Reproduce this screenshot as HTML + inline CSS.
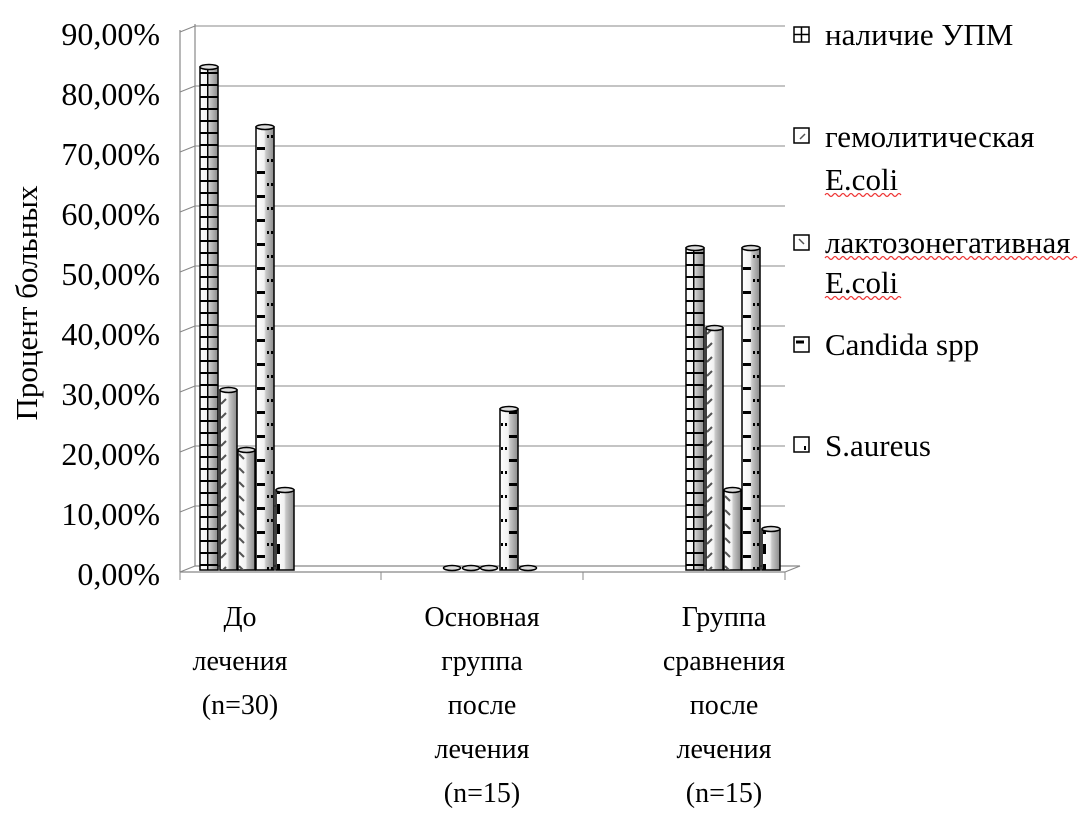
<!DOCTYPE html>
<html><head><meta charset="utf-8"><style>
body{margin:0;background:#fff}
svg text{font-family:"Liberation Serif","Noto Serif CJK SC",serif;fill:#000}
</style></head><body>
<svg width="1090" height="834" viewBox="0 0 1090 834" xmlns="http://www.w3.org/2000/svg">
<defs>
<linearGradient id="cyl" x1="0" x2="1" y1="0" y2="0">
<stop offset="0" stop-color="#fff"/><stop offset="0.45" stop-color="#f2f2f2"/><stop offset="0.55" stop-color="#c8c8c8"/><stop offset="1" stop-color="#8a8a8a"/>
</linearGradient>
<pattern id="p0" width="18" height="12" patternUnits="userSpaceOnUse"><rect x="0" y="0" width="18" height="2" fill="#000"/><rect x="9" y="0" width="1.5" height="12" fill="#000"/></pattern>
<pattern id="p1" width="18" height="14" patternUnits="userSpaceOnUse"><path d="M5 12 L10 7" stroke="#555" stroke-width="2"/></pattern>
<pattern id="p2" width="18" height="14" patternUnits="userSpaceOnUse"><path d="M5 6 L10 11" stroke="#555" stroke-width="2"/></pattern>
<pattern id="p3" width="18" height="24" patternUnits="userSpaceOnUse"><rect x="5" y="3" width="8" height="3" fill="#000"/><rect x="1" y="15" width="2" height="3" fill="#000"/><rect x="15" y="15" width="2" height="3" fill="#000"/></pattern>
<pattern id="p4" width="18" height="20" patternUnits="userSpaceOnUse"><rect x="7" y="4" width="3" height="10" fill="#000"/></pattern>
</defs>
<g stroke="#888" stroke-width="1.2" fill="none">
<line x1="180" y1="30" x2="180" y2="572"/>
<line x1="195" y1="24" x2="195" y2="566"/>
<line x1="195" y1="566" x2="800" y2="566"/>
<line x1="180" y1="572" x2="785" y2="572"/>
<line x1="785" y1="572" x2="800" y2="566"/>
<line x1="180" y1="572" x2="195" y2="566"/>
</g>
<g stroke="#888" stroke-width="1">
<line x1="180" y1="512" x2="195" y2="506"/><line x1="195" y1="506" x2="785" y2="506"/>
<line x1="180" y1="452" x2="195" y2="446"/><line x1="195" y1="446" x2="785" y2="446"/>
<line x1="180" y1="392" x2="195" y2="386"/><line x1="195" y1="386" x2="785" y2="386"/>
<line x1="180" y1="332" x2="195" y2="326"/><line x1="195" y1="326" x2="785" y2="326"/>
<line x1="180" y1="272" x2="195" y2="266"/><line x1="195" y1="266" x2="785" y2="266"/>
<line x1="180" y1="212" x2="195" y2="206"/><line x1="195" y1="206" x2="785" y2="206"/>
<line x1="180" y1="152" x2="195" y2="146"/><line x1="195" y1="146" x2="785" y2="146"/>
<line x1="180" y1="92" x2="195" y2="86"/><line x1="195" y1="86" x2="785" y2="86"/>
<line x1="180" y1="32" x2="195" y2="26"/><line x1="195" y1="26" x2="785" y2="26"/>
<line x1="180" y1="572" x2="180" y2="580"/><line x1="381" y1="572" x2="381" y2="580"/><line x1="583" y1="572" x2="583" y2="580"/><line x1="785" y1="572" x2="785" y2="580"/>
</g>
<g stroke="#000" stroke-width="1.5">
<rect x="200" y="67" width="18" height="503" fill="url(#cyl)"/><rect x="200" y="67" width="18" height="503" fill="url(#p0)" stroke="none"/><ellipse cx="209" cy="67" rx="9" ry="2.5" fill="#ddd"/>
<rect x="220" y="390" width="17" height="180" fill="url(#cyl)"/><rect x="220" y="390" width="17" height="180" fill="url(#p1)" stroke="none"/><ellipse cx="228.5" cy="390" rx="8.5" ry="2.5" fill="#ddd"/>
<rect x="238" y="450" width="17" height="120" fill="url(#cyl)"/><rect x="238" y="450" width="17" height="120" fill="url(#p2)" stroke="none"/><ellipse cx="246.5" cy="450" rx="8.5" ry="2.5" fill="#ddd"/>
<rect x="256" y="127" width="18" height="443" fill="url(#cyl)"/><rect x="256" y="127" width="18" height="443" fill="url(#p3)" stroke="none"/><ellipse cx="265" cy="127" rx="9" ry="2.5" fill="#ddd"/>
<rect x="276" y="490" width="18" height="80" fill="url(#cyl)"/><rect x="276" y="490" width="18" height="80" fill="url(#p4)" stroke="none"/><ellipse cx="285" cy="490" rx="9" ry="2.5" fill="#ddd"/>
<ellipse cx="452" cy="568" rx="8.5" ry="2.5" fill="#ddd"/>
<ellipse cx="471" cy="568" rx="8.5" ry="2.5" fill="#ddd"/>
<ellipse cx="489" cy="568" rx="8.5" ry="2.5" fill="#ddd"/>
<rect x="500" y="409" width="18" height="161" fill="url(#cyl)"/><rect x="500" y="409" width="18" height="161" fill="url(#p3)" stroke="none"/><ellipse cx="509" cy="409" rx="9" ry="2.5" fill="#ddd"/>
<ellipse cx="528" cy="568" rx="8.5" ry="2.5" fill="#ddd"/>
<rect x="686" y="248" width="18" height="322" fill="url(#cyl)"/><rect x="686" y="248" width="18" height="322" fill="url(#p0)" stroke="none"/><ellipse cx="695" cy="248" rx="9" ry="2.5" fill="#ddd"/>
<rect x="706" y="328" width="17" height="242" fill="url(#cyl)"/><rect x="706" y="328" width="17" height="242" fill="url(#p1)" stroke="none"/><ellipse cx="714.5" cy="328" rx="8.5" ry="2.5" fill="#ddd"/>
<rect x="724" y="490" width="17" height="80" fill="url(#cyl)"/><rect x="724" y="490" width="17" height="80" fill="url(#p2)" stroke="none"/><ellipse cx="732.5" cy="490" rx="8.5" ry="2.5" fill="#ddd"/>
<rect x="742" y="248" width="18" height="322" fill="url(#cyl)"/><rect x="742" y="248" width="18" height="322" fill="url(#p3)" stroke="none"/><ellipse cx="751" cy="248" rx="9" ry="2.5" fill="#ddd"/>
<rect x="762" y="529" width="18" height="41" fill="url(#cyl)"/><rect x="762" y="529" width="18" height="41" fill="url(#p4)" stroke="none"/><ellipse cx="771" cy="529" rx="9" ry="2.5" fill="#ddd"/>
</g>
<g font-size="32" text-anchor="end">
<text x="160" y="45">90,00%</text><text x="160" y="105">80,00%</text><text x="160" y="165">70,00%</text>
<text x="160" y="225">60,00%</text><text x="160" y="285">50,00%</text><text x="160" y="345">40,00%</text>
<text x="160" y="405">30,00%</text><text x="160" y="465">20,00%</text><text x="160" y="525">10,00%</text>
<text x="160" y="585">0,00%</text>
</g>
<text x="0" y="0" font-size="31" text-anchor="middle" transform="translate(37 303) rotate(-90)">Процент больных</text>
<g font-size="28" text-anchor="middle">
<text x="240" y="626">До</text><text x="240" y="670">лечения</text><text x="240" y="714">(n=30)</text>
<text x="482" y="626">Основная</text><text x="482" y="670">группа</text><text x="482" y="714">после</text><text x="482" y="758">лечения</text><text x="482" y="802">(n=15)</text>
<text x="724" y="626">Группа</text><text x="724" y="670">сравнения</text><text x="724" y="714">после</text><text x="724" y="758">лечения</text><text x="724" y="802">(n=15)</text>
</g>
<g stroke="#000" stroke-width="1.5" fill="#fff">
<rect x="794" y="27" width="15" height="15"/><rect x="794" y="128" width="15" height="15"/><rect x="794" y="235" width="15" height="15"/><rect x="794" y="337" width="15" height="15"/><rect x="794" y="437" width="15" height="15"/>
</g>
<g stroke="#000" stroke-width="1.5"><line x1="794" y1="34.5" x2="809" y2="34.5"/><line x1="801.5" y1="27" x2="801.5" y2="42"/>
<line x1="800" y1="139" x2="805" y2="134" stroke="#555"/><line x1="799" y1="239" x2="804" y2="244" stroke="#555"/>
<line x1="796" y1="342" x2="804" y2="342" stroke-width="3"/><rect x="804" y="446" width="2" height="4" stroke="none" fill="#000"/></g>
<g font-size="31">
<text x="825" y="45">наличие УПМ</text>
<text x="825" y="147">гемолитическая</text><text x="825" y="190">E.coli</text>
<text x="825" y="253">лактозонегативная</text><text x="825" y="293">E.coli</text>
<text x="825" y="355">Candida spp</text>
<text x="825" y="456">S.aureus</text>
</g>
<g stroke="#e33" stroke-width="1.2" fill="none">
<path d="M825 195 q2 -3 4 0 t4 0 t4 0 t4 0 t4 0 t4 0 t4 0 t4 0 t4 0 t4 0 t4 0 t4 0 t4 0 t4 0 t4 0 t4 0 t4 0 t4 0 t4 0"/>
<path d="M825 258 q2 -3 4 0 t4 0 t4 0 t4 0 t4 0 t4 0 t4 0 t4 0 t4 0 t4 0 t4 0 t4 0 t4 0 t4 0 t4 0 t4 0 t4 0 t4 0 t4 0 t4 0 t4 0 t4 0 t4 0 t4 0 t4 0 t4 0 t4 0 t4 0 t4 0 t4 0 t4 0 t4 0 t4 0 t4 0 t4 0 t4 0 t4 0 t4 0 t4 0 t4 0 t4 0 t4 0 t4 0 t4 0 t4 0 t4 0 t4 0 t4 0 t4 0 t4 0 t4 0 t4 0 t4 0 t4 0 t4 0 t4 0 t4 0 t4 0 t4 0 t4 0 t4 0 t4 0 t4 0"/>
<path d="M825 298 q2 -3 4 0 t4 0 t4 0 t4 0 t4 0 t4 0 t4 0 t4 0 t4 0 t4 0 t4 0 t4 0 t4 0 t4 0 t4 0 t4 0 t4 0 t4 0 t4 0"/>
</g>
</svg>
</body></html>
